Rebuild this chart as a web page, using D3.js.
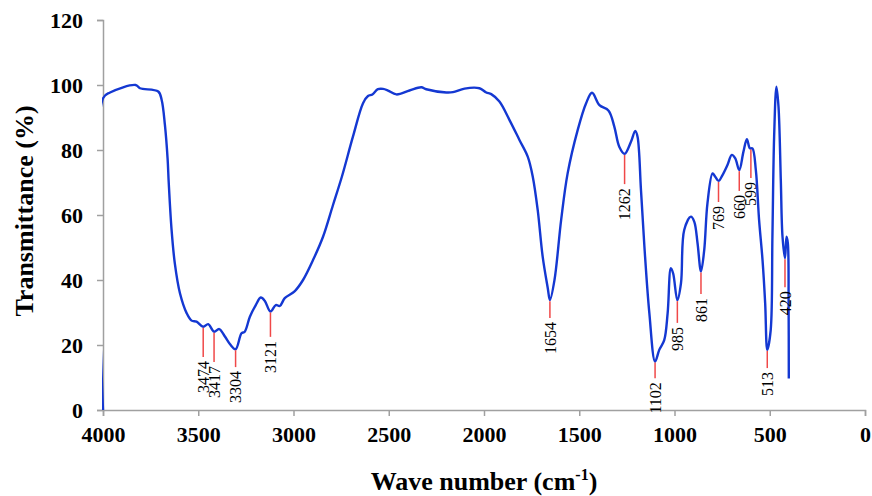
<!DOCTYPE html>
<html>
<head>
<meta charset="utf-8">
<script src="https://cdn.jsdelivr.net/npm/d3@7"></script>
<style>
  body { margin: 0; background: #fff; }
  svg { display: block; }
  text { font-family: "Liberation Serif", "Times New Roman", serif; }
</style>
</head>
<body>
<div id="chart"></div>
<script>
// FTIR spectrum

const width = 872;
const height = 496;
const margin = {top: 20, right: 7, bottom: 86, left: 103};

// wave number (cm-1) and transmittance (%)
const waveNumbers = [
  4000, 4000, 3963, 3829, 3806, 3710, 3692, 3675, 3661, 3655, 3640, 3623, 3596, 3561, 3535, 3509,
  3474, 3448, 3417, 3390, 3360, 3334, 3304, 3273, 3256, 3229, 3198, 3172, 3151, 3121, 3093, 3072,
  3046, 2993, 2950, 2897, 2845, 2793, 2745, 2688, 2635, 2609, 2586, 2557, 2530, 2504, 2460, 2391,
  2329, 2303, 2198, 2163, 2102, 2024, 1988, 1962, 1919, 1866, 1814, 1770, 1744, 1718, 1692, 1665,
  1654, 1630, 1595, 1561, 1508, 1464, 1433, 1394, 1346, 1316, 1290, 1262, 1228, 1206, 1194, 1176,
  1158, 1132, 1102, 1080, 1054, 1036, 1019, 1007, 985, 966, 949, 914, 896, 879, 861, 844,
  827, 800, 786, 769, 748, 722, 699, 681, 660, 638, 620, 604, 591, 573, 556, 538,
  524, 513, 495, 486, 477, 465, 454, 442, 433, 420, 412, 405, 401, 400
];
const transmittance = [
  0, 95.9, 97.7, 100, 99, 98, 95.4, 87.7, 77.4, 70, 55.4, 45.1, 35.9, 29.8, 27.5, 27.2,
  25.6, 26.4, 24.1, 24.9, 22.6, 20.3, 18.7, 23.6, 24.1, 28.7, 32.3, 34.6, 33.6, 30.3, 32.3, 32,
  34.4, 36.6, 40, 46.2, 53.3, 63, 72, 84.1, 94.4, 96.6, 97.1, 98.7, 98.8, 98.3, 97.1, 98.3,
  99.3, 98.7, 97.7, 97.8, 98.9, 99, 97.7, 97.2, 94.9, 89.2, 83.1, 77.9, 71.8, 61.5, 47.2, 37.4,
  33.8, 40, 58.5, 72.8, 86.2, 94.4, 97.6, 93.8, 92.1, 87.2, 81, 78.8, 82.6, 85.9, 84.1, 67.7,
  50.3, 29.8, 14.9, 18.5, 21.5, 29.8, 43.6, 42, 33.8, 39, 55.4, 59.5, 57.9, 51.3, 42.6, 49.2,
  63.6, 72.8, 71.8, 70.5, 72.3, 75.4, 78.5, 77.4, 73.8, 79.5, 83.3, 80.5, 80.5, 73.8, 58.5, 46.2,
  32.8, 18.5, 24.6, 53.3, 84.1, 99.5, 93.3, 70.8, 53.3, 46.7, 53.3, 51.3, 32, 9.7
];

// marked bands: position, transmittance at the dip, transmittance where the leader ends
const peakLabels = ["3474", "3417", "3304", "3121", "1654", "1262", "1102", "985", "861", "769", "660", "599", "513", "420"];
const peakWave = [3474, 3417, 3304, 3121, 1654, 1262, 1102, 985, 861, 769, 660, 599, 513, 420];
const peakTop = [25.6, 24.1, 18.7, 30.3, 33.8, 78.8, 14.9, 33.8, 42.6, 70.5, 73.8, 80.5, 18.5, 46.7];
const peakEnd = [16.3, 14.8, 13.2, 22.5, 28.3, 69.5, 9.8, 26.8, 35.7, 64, 67.4, 71.4, 12.9, 37.8];

const xTicks = [4000, 3500, 3000, 2500, 2000, 1500, 1000, 500, 0];
const yTicks = [0, 20, 40, 60, 80, 100, 120];

const innerW = width - margin.left - margin.right;
const innerH = height - margin.top - margin.bottom;

const svg = d3.select("#chart")
  .append("svg")
  .attr("width", width)
  .attr("height", height);

const g = svg.append("g")
  .attr("transform", `translate(${margin.left},${margin.top})`);

const x = d3.scaleLinear().domain([4000, 0]).range([0, innerW]);
const y = d3.scaleLinear().domain([0, 120]).range([innerH, 0]);

// axes
const xAxis = g.append("g")
  .attr("transform", `translate(0,${innerH})`)
  .call(d3.axisBottom(x).tickValues(xTicks).tickSize(6).tickPadding(10).tickFormat(d3.format("d")));
const yAxis = g.append("g")
  .call(d3.axisLeft(y).tickValues(yTicks).tickSize(6).tickPadding(14));

[xAxis, yAxis].forEach(a => {
  a.select(".domain").attr("stroke", "#a0a0a0").attr("stroke-width", 1.5);
  a.selectAll(".tick line").attr("stroke", "#a0a0a0").attr("stroke-width", 1.5);
  a.selectAll(".tick text")
    .attr("fill", "#000")
    .style("font-family", "'Liberation Serif', serif")
    .style("font-weight", "bold")
    .style("font-size", "22px");
});

// spectrum
g.append("clipPath").attr("id", "plotclip")
  .append("rect").attr("x", -1).attr("y", -5).attr("width", innerW + 1).attr("height", innerH + 5);

const line = d3.line()
  .x(i => x(waveNumbers[i]))
  .y(i => y(transmittance[i]))
  .curve(d3.curveCatmullRom.alpha(0.5));

g.append("path")
  .attr("clip-path", "url(#plotclip)")
  .attr("d", line(d3.range(waveNumbers.length)))
  .attr("fill", "none")
  .attr("stroke", "#1438d2")
  .attr("stroke-width", 2.4)
  .attr("stroke-linejoin", "round");

// band markers
const peaks = g.append("g");
peakWave.forEach((w, i) => {
  peaks.append("line")
    .attr("x1", x(w)).attr("x2", x(w))
    .attr("y1", y(peakTop[i]) + 1).attr("y2", y(peakEnd[i]))
    .attr("stroke", "#f04848")
    .attr("stroke-width", 1.5);
  peaks.append("text")
    .attr("transform", `translate(${x(w)},${y(peakEnd[i]) + 4}) rotate(-90)`)
    .attr("text-anchor", "end")
    .attr("dy", "0.35em")
    .style("font-size", "16px")
    .attr("fill", "#000")
    .text(peakLabels[i]);
});

// titles
svg.append("text")
  .attr("transform", `translate(33,${margin.top + innerH / 2 - 4}) rotate(-90)`)
  .attr("text-anchor", "middle")
  .style("font-weight", "bold")
  .style("font-size", "26px")
  .text("Transmittance (%)");

const xt = svg.append("text")
  .attr("x", margin.left + innerW / 2)
  .attr("y", 490)
  .attr("text-anchor", "middle")
  .style("font-weight", "bold")
  .style("font-size", "26px");
xt.append("tspan").text("Wave number (cm");
xt.append("tspan").attr("dy", -10).style("font-size", "16px").text("-1");
xt.append("tspan").attr("dy", 10).text(")");
</script>
</body>
</html>
